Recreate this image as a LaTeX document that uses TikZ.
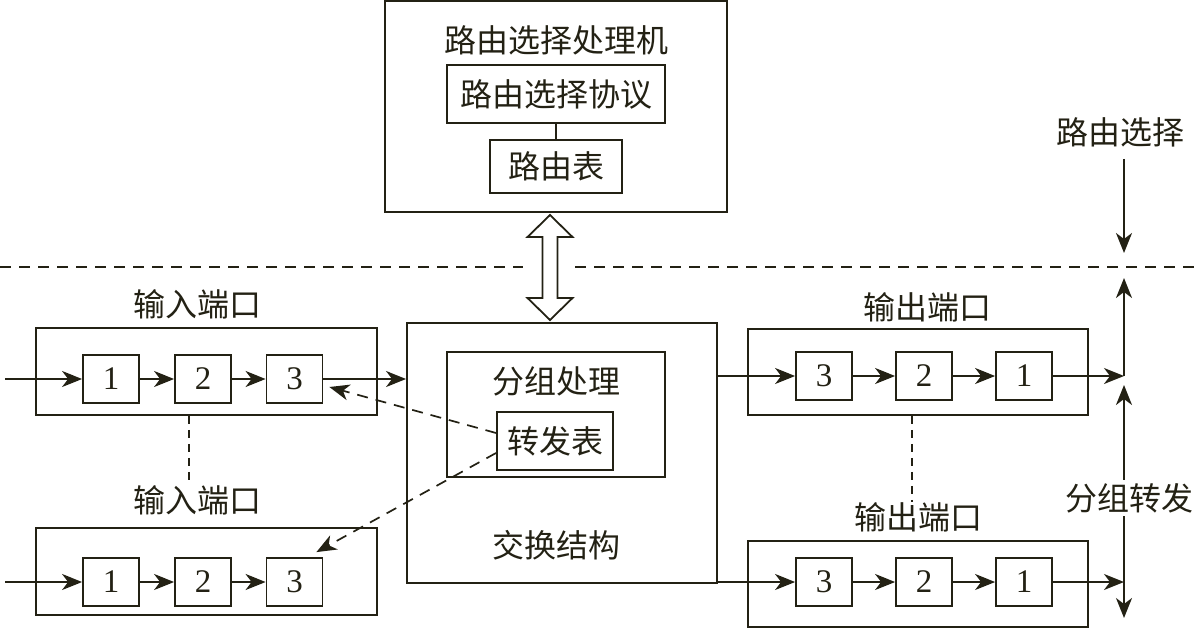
\documentclass[tikz,border=0pt]{standalone}
\usepackage{fontspec}
\setmainfont{Liberation Serif}
\newfontfamily\cjk{Noto Sans CJK SC}
\usetikzlibrary{arrows.meta,calc}
\definecolor{ink}{RGB}{35,33,20}
\begin{document}
\begin{tikzpicture}[x=1pt,y=-1pt,
  every node/.style={inner sep=0pt, text=ink},
  outer/.style={draw=ink, line width=1.9pt},
  cell/.style={draw=ink, line width=1.8pt, minimum width=56pt, minimum height=48pt, font=\fontsize{33}{34}\selectfont},
  lbl/.style={font=\cjk\fontsize{32}{34}\selectfont},
  conn/.style={draw=ink, line width=1.8pt},
  arr/.style={conn, -{Stealth[length=20pt,width=16pt,inset=6pt]}},
  darr/.style={draw=ink, line width=1.7pt, dash pattern=on 11pt off 8pt, -{Stealth[length=20pt,width=16pt,inset=6pt]}},
  vdash/.style={draw=ink, line width=1.5pt, dash pattern=on 8pt off 6pt},
  hdash/.style={draw=ink, line width=1.5pt, dash pattern=on 11pt off 8pt}]
\useasboundingbox (0,0) rectangle (1196,629);

% routing processor
\node[outer, minimum width=342pt, minimum height=211pt] (rp) at (556,106.5) {};
\node[lbl] (rptitle) at (556,40) {路由选择处理机};
\node[outer, minimum width=218pt, minimum height=58pt, lbl] (proto) at (556,94) {路由选择协议};
\node[outer, minimum width=132pt, minimum height=53pt, lbl] (rt) at (556,166.5) {路由表};
\draw[conn] (proto.south) -- (rt.north);

% dashed separator
\coordinate (dl0) at (0,267);
\coordinate (dl1) at (523,267);
\coordinate (dl2) at (575,267);
\coordinate (dl3) at (1196,267);
\draw[hdash] (dl0) -- (dl1);
\draw[hdash] (dl2) -- (dl3);

% double arrow
\draw[draw=ink, line width=1.8pt, fill=white, line join=miter]
  (550,215) -- (572.5,237) -- (557.5,237) -- (557.5,298) -- (572.5,298) -- (550,320)
  -- (527.5,298) -- (542.5,298) -- (542.5,237) -- (527.5,237) -- cycle;

% switching fabric
\node[outer, minimum width=310pt, minimum height=260pt] (fab) at (562,453) {};
\node[outer, minimum width=218pt, minimum height=125pt] (proc) at (556,414.5) {};
\node[lbl] (proctitle) at (556,381) {分组处理};
\node[outer, minimum width=116pt, minimum height=58pt, lbl] (fwd) at (555,441) {转发表};
\node[lbl] (fabtitle) at (556,545) {交换结构};

% input port 1
\node[outer, minimum width=341pt, minimum height=87pt] (in1) at (206.5,371.5) {};
\node[lbl] (in1l) at (197,304) {输入端口};
\node[cell] (a1) at (111,379) {1};
\node[cell] (a2) at (203,379) {2};
\node[cell] (a3) at (294.5,379) {3};
\coordinate (a0) at (5,379);
\draw[arr] (a0) -- (a1);
\draw[arr] (a1) -- (a2);
\draw[arr] (a2) -- (a3);
\draw[arr] (a3.east) -- (a3.east -| fab.west);

% input port 2
\node[outer, minimum width=341pt, minimum height=87pt] (in2) at (206.5,571.5) {};
\node[lbl] (in2l) at (197,500) {输入端口};
\node[cell] (b1) at (111,582) {1};
\node[cell] (b2) at (203,582) {2};
\node[cell] (b3) at (294.5,582) {3};
\coordinate (b0) at (5,582);
\draw[arr] (b0) -- (b1);
\draw[arr] (b1) -- (b2);
\draw[arr] (b2) -- (b3);
\draw[vdash] (in1.south -| 189,0) -- (in2l.north -| 189,0);

% forwarding-table dashed arrows
\draw[darr] ($(fwd.west)+(0,-8)$) -- ($(a3.east)+(6,8)$);
\draw[darr] ($(fwd.west)+(0,12)$) -- ($(b3.north east)+(-7,-5)$);

% output port 1
\node[outer, minimum width=340pt, minimum height=86pt] (out1) at (918,372) {};
\node[lbl] (out1l) at (927,307) {输出端口};
\node[cell] (c3) at (824,376) {3};
\node[cell] (c2) at (924,376) {2};
\node[cell] (c1) at (1024,376) {1};
\draw[arr] (fab.east |- c3.west) -- (c3.west);
\draw[arr] (c3) -- (c2);
\draw[arr] (c2) -- (c1);
\coordinate (j1) at (1124,376);
\draw[arr] (c1.east) -- (j1);

% output port 2
\node[outer, minimum width=340pt, minimum height=86pt] (out2) at (918,584) {};
\node[lbl] (out2l) at (918,517) {输出端口};
\node[cell] (d3) at (824,582) {3};
\node[cell] (d2) at (924,582) {2};
\node[cell] (d1) at (1024,582) {1};
\draw[arr] (fab.east |- d3.west) -- (d3.west);
\draw[arr] (d3) -- (d2);
\draw[arr] (d2) -- (d1);
\coordinate (j2) at (1124,582);
\draw[arr] (d1.east) -- (j2);
\draw[vdash] (out1.south -| 912,0) -- (out2l.north -| 912,0);

% right side
\node[lbl] (rsel) at (1120,132) {路由选择};
\node[lbl] (pfwd) at (1129,498) {分组转发};
\coordinate (rdown) at (1124,253);
\coordinate (rup) at (1124,278);
\coordinate (rmid) at (1124,385);
\coordinate (rbot) at (1124,618);
\draw[arr] (rsel.south -| rdown) ++(0,12) -- (rdown);
\draw[arr] (j1) -- (rup);
\draw[arr] ($(pfwd.north -| rmid)+(0,-3)$) -- (rmid);
\draw[arr] ($(pfwd.south -| rbot)+(0,3)$) -- (rbot);
\end{tikzpicture}
\end{document}
